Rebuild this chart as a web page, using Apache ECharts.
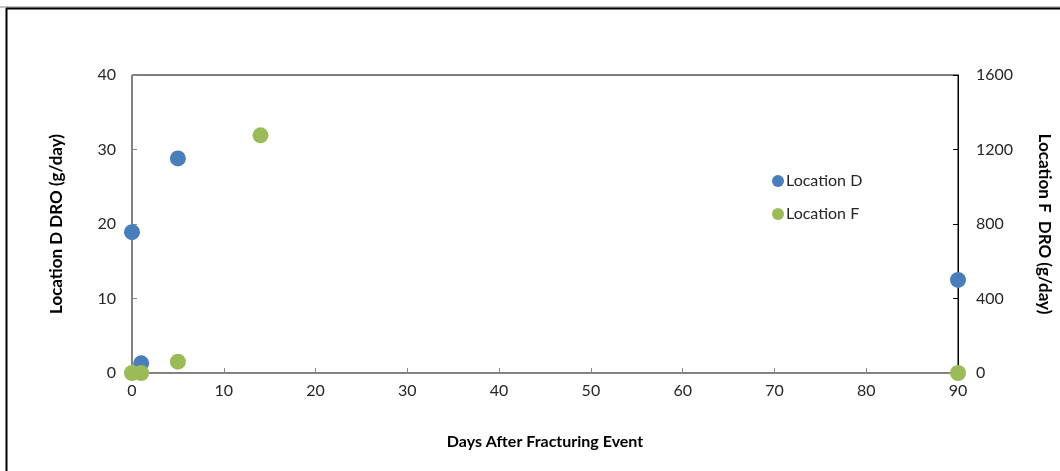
<!DOCTYPE html>
<html>
<head>
<meta charset="utf-8">
<script src="https://cdn.jsdelivr.net/npm/echarts@6/dist/echarts.min.js"></script>
<style>html,body{margin:0;padding:0;background:#fff}#c{width:1060px;height:471px}</style>
</head>
<body>
<div id="c"></div>
<script>
var daysD = [0, 1, 5, 90];
var valuesD = [18.9, 1.3, 28.8, 12.5];
var daysF = [0, 1, 5, 14, 90];
var valuesF = [0, 0, 61, 1276, 0];
var seriesNames = ['Location D', 'Location F'];
var colors = ['#4A7EBB', '#9BBB59'];
var font = 'Lato, "Open Sans", sans-serif';

function pairs(xs, ys) { return xs.map(function (x, i) { return [x, ys[i]]; }); }

var chart = echarts.init(document.getElementById('c'), null, {renderer: 'canvas'});
chart.setOption({
  backgroundColor: '#fff',
  animation: false,
  textStyle: {fontFamily: font},
  grid: {left: 132, right: 102, top: 75, bottom: 98, outerBoundsMode: 'none', containLabel: false,
         show: true, borderColor: '#000', borderWidth: 1, backgroundColor: 'transparent'},
  legend: {
    orient: 'vertical', left: 767, top: 168, itemGap: 17,
    icon: 'circle', itemWidth: 12, itemHeight: 12,
    textStyle: {fontFamily: font, fontSize: 16, color: '#262626', padding: [0, 0, 0, -3]},
    data: seriesNames
  },
  xAxis: {
    type: 'value', min: 0, max: 90, interval: 10,
    name: 'Days After Fracturing Event', nameLocation: 'middle', nameGap: 61,
    nameTextStyle: {fontFamily: font, fontSize: 16, fontWeight: 'bold', color: '#000'},
    axisLine: {show: true, lineStyle: {color: '#868686', width: 1}},
    axisTick: {show: true, inside: true, length: 5, lineStyle: {color: '#868686'}},
    axisLabel: {fontFamily: font, fontSize: 16, color: '#262626', margin: 10},
    splitLine: {show: false}
  },
  yAxis: [{
    type: 'value', min: 0, max: 40, interval: 10, position: 'left',
    name: 'Location D DRO (g/day)', nameLocation: 'middle', nameGap: 67,
    nameTextStyle: {fontFamily: font, fontSize: 17, fontWeight: 'bold', color: '#000'},
    axisLine: {show: true, lineStyle: {color: '#868686', width: 1}},
    axisTick: {show: true, inside: true, length: 5, lineStyle: {color: '#868686'}},
    axisLabel: {fontFamily: font, fontSize: 16, color: '#262626', margin: 16},
    splitLine: {show: false}
  }, {
    type: 'value', min: 0, max: 1600, interval: 400, position: 'right',
    name: 'Location F  DRO (g/day)', nameLocation: 'middle', nameGap: 78, nameRotate: -90,
    nameTextStyle: {fontFamily: font, fontSize: 17, fontWeight: 'bold', color: '#000'},
    axisLine: {show: true, lineStyle: {color: '#000', width: 1}},
    axisTick: {show: true, inside: true, length: 5, lineStyle: {color: '#000'}},
    axisLabel: {fontFamily: font, fontSize: 16, color: '#262626', margin: 18, formatter: function (v) { return String(v); }},
    splitLine: {show: false}
  }],
  graphic: [
    {type: 'line', shape: {x1: 0, y1: 7, x2: 1060, y2: 7}, style: {stroke: '#888', lineWidth: 1}, z: 100},
    {type: 'line', shape: {x1: 6, y1: 8.5, x2: 1060, y2: 8.5}, style: {stroke: '#000', lineWidth: 2}, z: 100},
    {type: 'line', shape: {x1: 6.5, y1: 8, x2: 6.5, y2: 471}, style: {stroke: '#000', lineWidth: 2}, z: 100}
  ],
  series: [{
    name: seriesNames[0], type: 'scatter', yAxisIndex: 0, symbolSize: 16,
    itemStyle: {color: colors[0], opacity: 1}, data: pairs(daysD, valuesD), z: 3
  }, {
    name: seriesNames[1], type: 'scatter', yAxisIndex: 1, symbolSize: 16,
    itemStyle: {color: colors[1], opacity: 1}, data: pairs(daysF, valuesF), z: 4
  }]
});
</script>
</body>
</html>
